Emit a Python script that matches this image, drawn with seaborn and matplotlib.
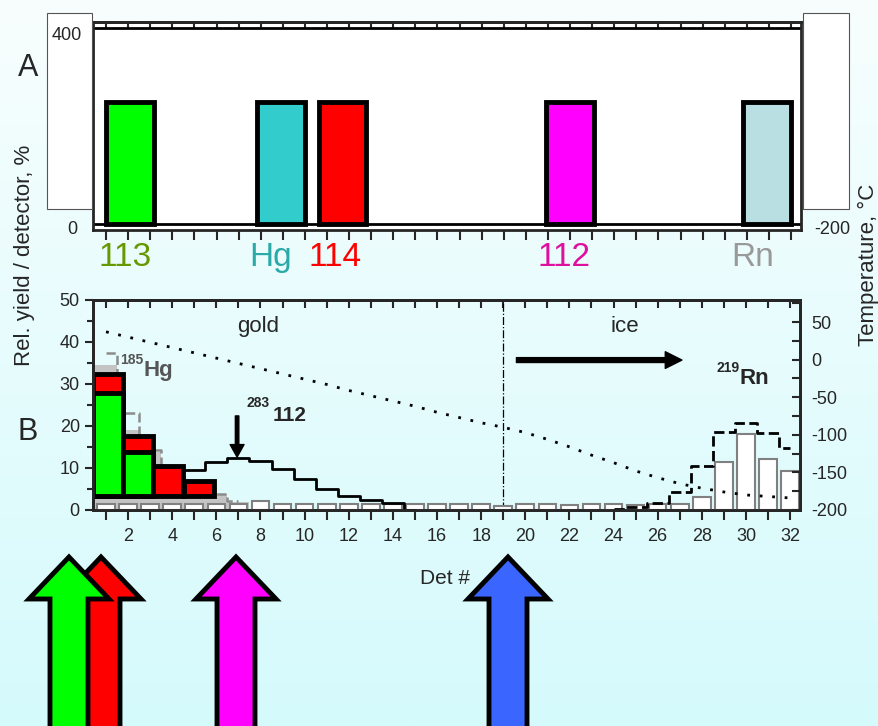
import numpy as np
import pandas as pd
import matplotlib
matplotlib.use("Agg")
import matplotlib.pyplot as plt
from matplotlib.patches import Rectangle, Polygon
from matplotlib.ticker import NullFormatter, MultipleLocator
import matplotlib.transforms as mtransforms
import seaborn as sns

sns.set_style("ticks")
plt.rcParams['font.family'] = ['Liberation Sans', 'DejaVu Sans']
plt.rcParams['axes.unicode_minus'] = False

# ---- data ----
det = list(range(1, 33))
# relative yield per detector (white bars), %
white_bars = [1.4, 1.4, 1.4, 1.4, 1.4, 1.4, 1.4, 2.1, 1.4, 1.4, 1.4, 1.4, 1.4, 1.4, 1.4, 1.4,
              1.4, 1.4, 1.0, 1.4, 1.4, 1.1, 1.4, 1.5, 1.2, 1.5, 1.4, 3.2, 11.4, 18.1, 12.1, 9.4]
# temperature gradient, deg C
temp = [37, 30, 23, 16, 9, 2, -5, -12, -19, -26, -33, -41, -48, -55, -62, -70,
        -77, -84, -90, -97, -106, -116, -127, -137, -148, -157, -165, -171, -176, -180, -182, -184]

# 185Hg
hg_det = [1, 2, 3, 4, 5, 6, 7]
hg_fill = [34.5, 19.0, 13.9, 9.0, 4.5, 3.8, 2.0]
hg_dash = [37.5, 23.2, 14.3, 9.0, 4.5, 3.8, 2.2]

# 283-112 simulated distribution
e112_det = [4, 5, 6, 7, 8, 9, 10, 11, 12, 13, 14, 15]
e112_vals = [9.5, 9.5, 11.5, 12.3, 11.7, 9.8, 7.4, 5.0, 3.3, 2.4, 1.6, 0.0]

# 219Rn
rn_det = [24, 25, 26, 27, 28, 29, 30, 31, 32]
rn_vals = [0.3, 0.8, 1.7, 4.4, 10.5, 18.5, 20.6, 18.4, 14.7]

# coloured event boxes (113 green, 114 red)
box_x = [1.11, 2.47, 3.83, 5.2]
box_red = [32.3, 17.6, 10.5, 7.0]
box_green = [27.8, 13.9]
box_base = 3.4

# panel A
a_labels = ['113', 'Hg', '114', '112', 'Rn']
a_pos = [2.07, 8.93, 11.7, 22.0, 30.9]
a_label_x = [1.86, 8.43, 11.38, 21.71, 30.27]
a_height = [248, 248, 248, 248, 248]
a_colors = ['#00ff00', '#33cccc', '#ff0000', '#ff00ff', '#b9dfe3']
a_text_colors = ['#669900', '#2aa9a9', '#ff0000', '#e0109f', '#999999']

# big arrows below the chart (pixel centres)
arrow_x = [101, 69, 236, 508]
arrow_colors = ['#ff0000', '#00ff00', '#ff00ff', '#3a66ff']

W, H = 879, 726
fig = plt.figure(figsize=(W / 100, H / 100), dpi=100)

# background gradient
bg = fig.add_axes([0, 0, 1, 1], zorder=-1)
grad = np.linspace(0, 1, 256).reshape(-1, 1)
top_c = np.array([248, 254, 254]) / 255
bot_c = np.array([213, 250, 252]) / 255
img = top_c[None, None, :] * (1 - grad[:, :, None]) + bot_c[None, None, :] * grad[:, :, None]
bg.imshow(img, aspect='auto', extent=[0, 1, 0, 1])
bg.axis('off')

xlim = (0.41, 32.45)

# ---------------- panel B ----------------
ax = fig.add_axes([93 / W, 1 - 510 / H, 707 / W, 210 / H])
ax.set_facecolor('none')

edges = [d - 0.5 for d in hg_det] + [hg_det[-1] + 0.5]
sns.histplot(x=hg_det, weights=hg_fill, bins=edges, element='step', fill=True,
             color='#c4c4c4', alpha=1, linewidth=0, ax=ax, zorder=1)
sns.lineplot(x=hg_det, y=hg_dash, drawstyle='steps-mid', color='#8c8c8c',
             linestyle='--', lw=1.8, ax=ax, zorder=2)
sns.barplot(x=det, y=white_bars, native_scale=True, color='white', edgecolor='#808080',
            linewidth=1.5, width=0.8, errorbar=None, ax=ax, zorder=3)
sns.lineplot(x=e112_det, y=e112_vals, drawstyle='steps-mid', color='black', lw=2, ax=ax, zorder=4)
sns.lineplot(x=rn_det, y=rn_vals, drawstyle='steps-mid', color='black', linestyle='--',
             lw=2, ax=ax, zorder=4)
ax.axvline(19, color='black', lw=0.9, linestyle='-.', zorder=2)

ax.bar(box_x, [h - box_base for h in box_red], bottom=box_base, width=1.36,
       color='#ff0000', edgecolor='black', linewidth=3.5, zorder=6)
ax.bar(box_x[:2], [h - box_base for h in box_green], bottom=box_base, width=1.36,
       color='#00ff00', edgecolor='black', linewidth=3.5, zorder=7)

ax.set_xlim(*xlim)
ax.set_ylim(0, 50)
ax.set_xticks(range(2, 33, 2))
ax.set_xticks(range(1, 33, 2), minor=True)
ax.set_yticks(range(0, 51, 10))
ax.yaxis.set_minor_locator(MultipleLocator(5))
ax.tick_params(axis='x', which='both', direction='out', length=7, width=1.5, labelsize=13, pad=6)
ax.tick_params(axis='y', which='major', direction='out', length=6, width=1.5, labelsize=13)
ax.tick_params(axis='y', which='minor', direction='out', length=4, width=1.5)
ax.set_xlabel('')
ax.set_ylabel('')
for s in ax.spines.values():
    s.set_linewidth(2)
    s.set_visible(True)

sec = ax.secondary_xaxis('top')
sec.set_xticks(det)
sec.xaxis.set_major_formatter(NullFormatter())
sec.tick_params(direction='in', length=6, width=1.5)
sec.spines['top'].set_linewidth(2)

# annotations
ax.text(7.9, 43.6, 'gold', fontsize=16, ha='center', va='center')
ax.text(24.5, 43.6, 'ice', fontsize=16, ha='center', va='center')
ax.annotate('', xy=(27.1, 35.7), xytext=(19.6, 35.7),
            arrowprops=dict(facecolor='black', edgecolor='black', width=3.5, headwidth=12,
                            headlength=12, shrink=0))
ax.annotate('', xy=(6.94, 12.6), xytext=(6.94, 22.4),
            arrowprops=dict(facecolor='black', edgecolor='black', width=2.5, headwidth=10,
                            headlength=9, shrink=0))
ax.text(7.9, 25.5, '283', fontsize=10, fontweight='bold', ha='center', va='center')
ax.text(9.3, 22.6, '112', fontsize=15, fontweight='bold', ha='center', va='center')
ax.text(2.18, 35.7, '185', fontsize=10, fontweight='bold', color='#555555', ha='center', va='center')
ax.text(3.36, 33.3, 'Hg', fontsize=16, fontweight='bold', color='#555555', ha='center', va='center')
ax.text(29.2, 33.8, '219', fontsize=10, fontweight='bold', ha='center', va='center')
ax.text(30.4, 31.4, 'Rn', fontsize=16, fontweight='bold', ha='center', va='center')

# temperature (right axis)
ax2 = ax.twinx()
sns.lineplot(x=det, y=temp, color='black', lw=2, linestyle=(0, (1, 3.5)), ax=ax2)
ax2.set_ylim(-200, 79.3)
ax2.set_yticks(range(-200, 51, 50))
ax2.yaxis.set_minor_locator(MultipleLocator(25))
ax2.tick_params(axis='y', which='both', direction='in', length=6, width=1.5, labelsize=13, pad=8)
ax2.set_ylabel('')
for s in ax2.spines.values():
    s.set_linewidth(2)

# ---------------- panel A ----------------
ax_a = fig.add_axes([93 / W, 1 - 230 / H, 708 / W, 208 / H])
ax_a.set_facecolor('white')
ax_a.bar(a_pos, a_height, width=2.17, color=a_colors, edgecolor='black', linewidth=3.5, zorder=3)
ax_a.axhline(400, color='black', lw=2)
ax_a.axhline(0, color='black', lw=2)
ax_a.set_xlim(*xlim)
ax_a.set_ylim(-12, 412)
ax_a.set_yticks([])
ax_a.set_xticks(det)
ax_a.xaxis.set_major_formatter(NullFormatter())
ax_a.tick_params(axis='x', direction='out', length=7, width=1.5)
for s in ax_a.spines.values():
    s.set_linewidth(2)
sec_a = ax_a.secondary_xaxis('top')
sec_a.set_xticks(det)
sec_a.xaxis.set_major_formatter(NullFormatter())
sec_a.tick_params(direction='in', length=4, width=1.5)
sec_a.spines['top'].set_linewidth(2)

trans = mtransforms.blended_transform_factory(ax_a.transData, ax_a.transAxes)
for lx, lab, c in zip(a_label_x, a_labels, a_text_colors):
    ax_a.text(lx, -0.13, lab, color=c, fontsize=24, ha='center', va='center',
              transform=trans, clip_on=False)

# side boxes of panel A
fig.add_artist(Rectangle((47 / W, 1 - 209 / H), 45 / W, 196 / H, transform=fig.transFigure,
                         facecolor='white', edgecolor='#555555', lw=0.8, zorder=0.5))
fig.add_artist(Rectangle((803 / W, 1 - 209 / H), 46 / W, 196 / H, transform=fig.transFigure,
                         facecolor='white', edgecolor='#555555', lw=0.8, zorder=0.5))
fig.text(67 / W, 1 - 36 / H, '400', fontsize=13, ha='center', va='center')
fig.text(72 / W, 1 - 230 / H, '0', fontsize=13, ha='center', va='center')
fig.text(832 / W, 1 - 230 / H, '-200', fontsize=13, ha='center', va='center')

# labels
fig.text(28 / W, 1 - 68 / H, 'A', fontsize=22, ha='center', va='center')
fig.text(28 / W, 1 - 432 / H, 'B', fontsize=22, ha='center', va='center')
fig.text(25 / W, 1 - 255 / H, 'Rel. yield / detector, %', fontsize=16, rotation=90,
         ha='center', va='center')
fig.text(868 / W, 1 - 265 / H, 'Temperature, °C', fontsize=16, rotation=90,
         ha='center', va='center')
fig.text(445 / W, 1 - 578 / H, 'Det #', fontsize=15, ha='center', va='center')

# big arrows
for cx, c in zip(arrow_x, arrow_colors):
    pts = [(cx, 557), (cx + 40, 599), (cx + 19, 599), (cx + 19, 740),
           (cx - 19, 740), (cx - 19, 599), (cx - 40, 599)]
    pts = [(px / W, 1 - py / H) for px, py in pts]
    fig.add_artist(Polygon(pts, closed=True, transform=fig.transFigure, facecolor=c,
                           edgecolor='black', lw=3.5, joinstyle='miter', zorder=2))

fig.savefig('out.png', dpi=100)
